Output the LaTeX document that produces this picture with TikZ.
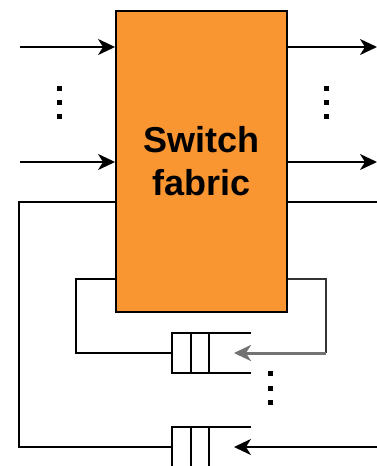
\documentclass[tikz,border=0pt]{standalone}
\usepackage{fontspec}
\setmainfont{Liberation Sans}
\usetikzlibrary{arrows.meta}
\definecolor{fabric}{RGB}{250,150,50}

\begin{document}
\begin{tikzpicture}[x=1pt,y=-1pt,line width=1.9pt,
  arr/.style={-{Stealth[length=17pt,width=16pt,inset=5pt]}},
  queue/.style={minimum width=77pt,minimum height=38pt,inner sep=0pt}]
\useasboundingbox (0,0) rectangle (377,466);
\clip (0,0) rectangle (377,466);
\node[draw=black,fill=fabric,minimum width=171pt,minimum height=301pt,inner sep=0pt,align=center,
  font=\bfseries\fontsize{36}{43}\selectfont] (sw) at (201.5,161.5) {Switch\\fabric};
\coordinate (in1) at (20,47);
\coordinate (in2) at (20,162);
\coordinate (out1) at (377,47);
\coordinate (out2) at (377,162);
\draw[arr] (in1) -- (in1 -| sw.west);
\draw[arr] (in2) -- (in2 -| sw.west);
\draw[arr] (sw.east |- out1) -- (out1);
\draw[arr] (sw.east |- out2) -- (out2);
\foreach \y in {88,102,116} {
  \fill (56.5,\y-2.5) rectangle ++(5,5);
  \fill (324,\y-2.5) rectangle ++(5,5);
}
\foreach \y in {373,388,402}
  \fill (267.5,\y-2.5) rectangle ++(5,5);
\node[queue] (q1) at (211.5,353) {};
\node[queue] (q2) at (211.5,447) {};
\foreach \q in {q1,q2} {
  \draw (\q.north east) -- (\q.north west) -- (\q.south west) -- (\q.south east);
  \draw ([xshift=19pt]\q.north west) -- ([xshift=19pt]\q.south west);
  \draw ([xshift=37pt]\q.north west) -- ([xshift=37pt]\q.south west);
}
\coordinate (c1) at (326,353);
\coordinate (c2) at (380,447);
\draw ([yshift=34pt]sw.south west) -| ([xshift=-96pt]q1.west) -- (q1.west);
\draw[black!80] ([yshift=34pt]sw.south east) -| (c1);
\draw[arr,black!55,line width=3pt] (c1) -- ([xshift=-17pt]q1.east);
\draw ([yshift=111pt]sw.south west) -| ([xshift=-153pt]q2.west) -- (q2.west);
\draw ([yshift=111pt]sw.south east) -- ++(95,0);
\draw[arr] (c2) -- ([xshift=-17pt]q2.east);
\end{tikzpicture}
\end{document}
